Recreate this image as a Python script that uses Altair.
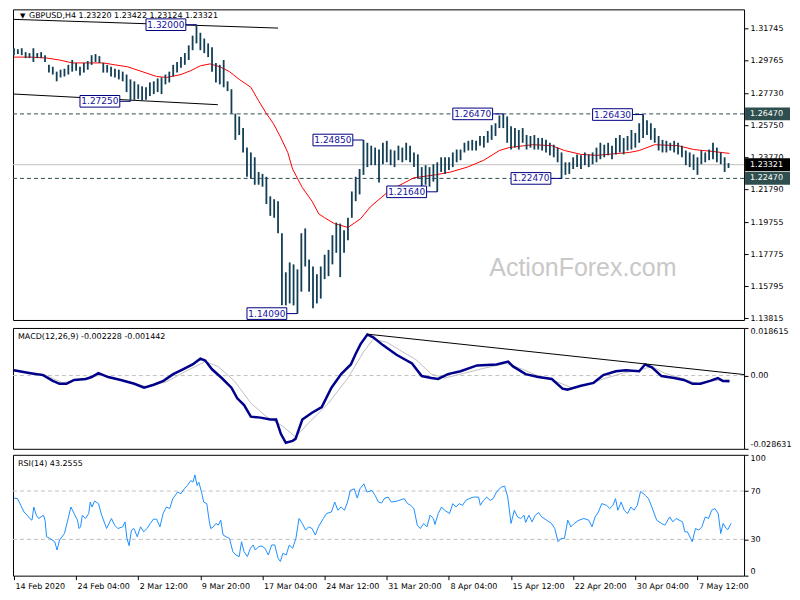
import json
import altair as alt
import pandas as pd

# ---------------- layout ----------------
W = 732
H_PRICE = 311
H_IND = 121
X_DOMAIN = [-0.5, 376]
PRICE_DOMAIN = [1.13694, 1.3295]
MACD_DOMAIN = [-0.028631, 0.018615]

# ---------------- texts ----------------
TITLE_TEXT = "GBPUSD,H4  1.23220 1.23422 1.23124 1.23321"
MACD_TEXT = "MACD(12,26,9) -0.002228 -0.001442"
RSI_TEXT = "RSI(14) 43.2555"
WATERMARK = "ActionForex.com"

PRICE_TICKS = [1.31745, 1.29765, 1.27730, 1.25750, 1.23770, 1.21790,
               1.19755, 1.17775, 1.15795, 1.13815]
MACD_TICKS = [0.018615, 0.0, -0.028631]
RSI_TICKS = [0, 30, 70, 100]
X_TICKS = [0, 32, 64, 96, 128, 160, 192, 224, 256, 288, 320, 352]
X_LABELS = ["14 Feb 2020", "24 Feb 04:00", "2 Mar 12:00", "9 Mar 20:00",
            "17 Mar 04:00", "24 Mar 12:00", "31 Mar 20:00", "8 Apr 04:00",
            "15 Apr 12:00", "22 Apr 20:00", "30 Apr 04:00", "7 May 12:00"]

# ---------------- price bars (every 2nd H4 bar) ----------------
BAR_IDX = list(range(0, 370, 2))
HIGH = [1.3054,1.3048,1.3054,1.3030,1.3024,1.3054,1.3024,1.3030,1.3011,1.2951,
        1.2939,1.2909,1.2921,1.2927,1.2951,1.2981,1.2963,1.2939,1.2963,1.2975,
        1.3011,1.3018,1.3005,1.2963,1.2951,1.2939,1.2927,1.2921,1.2909,1.2891,
        1.2861,1.2849,1.2830,1.2818,1.2812,1.2842,1.2849,1.2867,1.2873,1.2891,
        1.2909,1.2951,1.2969,1.2999,1.3024,1.3072,1.3132,1.3200,1.3150,1.3114,
        1.3084,1.3060,1.2963,1.2951,1.2981,1.2849,1.2800,1.2649,1.2631,1.2559,
        1.2438,1.2408,1.2378,1.2287,1.2275,1.2257,1.2136,1.2118,1.2106,1.1907,
        1.1665,1.1726,1.1714,1.1683,1.1907,1.1937,1.1744,1.1701,1.1653,1.1701,
        1.1774,1.1804,1.1895,1.1973,1.1967,1.1925,1.2003,1.2166,1.2257,1.2305,
        1.2485,1.2468,1.2450,1.2438,1.2426,1.2468,1.2480,1.2426,1.2420,1.2450,
        1.2438,1.2468,1.2450,1.2408,1.2396,1.2317,1.2329,1.2317,1.2335,1.2347,
        1.2378,1.2378,1.2378,1.2408,1.2426,1.2426,1.2468,1.2480,1.2486,1.2480,
        1.2510,1.2510,1.2541,1.2577,1.2589,1.2637,1.2647,1.2631,1.2571,1.2559,
        1.2547,1.2559,1.2516,1.2510,1.2516,1.2498,1.2498,1.2486,1.2468,1.2456,
        1.2438,1.2408,1.2347,1.2347,1.2378,1.2396,1.2390,1.2408,1.2396,1.2408,
        1.2438,1.2468,1.2456,1.2468,1.2450,1.2498,1.2516,1.2498,1.2510,1.2547,
        1.2529,1.2589,1.2643,1.2607,1.2589,1.2559,1.2510,1.2486,1.2480,1.2468,
        1.2480,1.2468,1.2450,1.2420,1.2408,1.2396,1.2378,1.2420,1.2408,1.2426,
        1.2468,1.2438,1.2408,1.2378,1.2342]
LOW = [1.3011,1.3018,1.3011,1.2993,1.2993,1.2969,1.2993,1.2993,1.2969,1.2903,
       1.2891,1.2849,1.2873,1.2879,1.2891,1.2909,1.2915,1.2885,1.2903,1.2921,
       1.2951,1.2969,1.2963,1.2903,1.2903,1.2879,1.2873,1.2861,1.2849,1.2782,
       1.2725,1.2734,1.2740,1.2728,1.2734,1.2758,1.2770,1.2782,1.2770,1.2830,
       1.2842,1.2879,1.2903,1.2933,1.2951,1.2981,1.3042,1.3084,1.3042,1.3024,
       1.2999,1.2909,1.2842,1.2830,1.2812,1.2788,1.2649,1.2486,1.2516,1.2408,
       1.2257,1.2245,1.2208,1.2208,1.2196,1.2088,1.2015,1.2003,1.1907,1.1460,
       1.1460,1.1472,1.1460,1.1409,1.1545,1.1701,1.1545,1.1442,1.1472,1.1502,
       1.1623,1.1641,1.1714,1.1786,1.1635,1.1786,1.1864,1.2003,1.2106,1.2148,
       1.2269,1.2317,1.2329,1.2329,1.2221,1.2335,1.2347,1.2329,1.2317,1.2360,
       1.2347,1.2360,1.2347,1.2317,1.2245,1.2196,1.2208,1.2196,1.2227,1.2164,
       1.2287,1.2275,1.2299,1.2317,1.2347,1.2360,1.2408,1.2420,1.2420,1.2420,
       1.2450,1.2438,1.2468,1.2486,1.2510,1.2559,1.2559,1.2468,1.2426,1.2438,
       1.2426,1.2468,1.2426,1.2438,1.2426,1.2426,1.2420,1.2408,1.2390,1.2378,
       1.2347,1.2247,1.2269,1.2275,1.2305,1.2317,1.2305,1.2329,1.2317,1.2335,
       1.2347,1.2366,1.2378,1.2390,1.2366,1.2396,1.2408,1.2396,1.2420,1.2426,
       1.2438,1.2468,1.2498,1.2516,1.2486,1.2468,1.2420,1.2408,1.2408,1.2420,
       1.2408,1.2396,1.2378,1.2329,1.2317,1.2299,1.2269,1.2335,1.2347,1.2360,
       1.2366,1.2347,1.2335,1.2287,1.2312]
LAST_CLOSE = 1.23321

# ---------------- moving average (red) ----------------
MA_IDX = [0, 8.5, 17, 23.5, 30, 38.5, 46, 52, 58.5, 66, 73.5, 78.5, 86, 91, 96, 101,
          106, 111, 116, 122, 126, 130, 133.5, 137, 141, 143.5, 148.5, 153.5, 157,
          160, 165, 172, 178.5, 183.5, 187.5, 193.5, 206, 217, 225, 233.5, 242, 250,
          255, 267, 277, 283.5, 292, 300, 317, 322, 330, 342, 350, 360, 368.5]
MA_VAL = [1.2999, 1.2999, 1.2993, 1.2981, 1.2963, 1.2963, 1.2963, 1.2951, 1.2939,
          1.2909, 1.2879, 1.2873, 1.2891, 1.2915, 1.2945, 1.2957, 1.2939, 1.2909,
          1.2861, 1.2812, 1.2728, 1.2649, 1.2589, 1.2510, 1.2408, 1.2305, 1.2190,
          1.2106, 1.2027, 1.2003, 1.1967, 1.1943, 1.1997, 1.2070, 1.2112, 1.2172,
          1.2251, 1.2269, 1.2287, 1.2317, 1.2360, 1.2420, 1.2438, 1.2456, 1.2450,
          1.2420, 1.2396, 1.2390, 1.2408, 1.2420, 1.2456, 1.2450, 1.2426, 1.2414,
          1.2402]

# ---------------- trend lines on price ----------------
TL_ID = ["a", "a", "b", "b"]
TL_IDX = [0, 136, 0, 105]
TL_VAL = [1.3233, 1.3179, 1.2770, 1.2704]

# ---------------- swing labels ----------------
LAB_IDX = [94, 60, 146, 180, 218, 252, 282, 324]
LAB_VAL = [1.3200, 1.2725, 1.1409, 1.2485, 1.2164, 1.2647, 1.2247, 1.2643]
LAB_TXT = ["1.32000", "1.27250", "1.14090", "1.24850", "1.21640", "1.26470",
           "1.22470", "1.26430"]

LEVELS = [1.2647, 1.2247]
TAG_VAL = [1.2647, 1.23321, 1.2247]
TAG_TXT = ["1.26470", "1.23321", "1.22470"]
TAG_COL = ["#2F4F4F", "#000000", "#2F4F4F"]

# ---------------- MACD ----------------
MACD_IDX = [0, 8.5, 15, 20, 23.5, 27, 31, 37, 40, 43.5, 48.5, 55, 62, 67, 72, 77, 82,
            87, 92, 96, 98.5, 102, 107, 112, 115, 118.5, 122, 127, 132, 135, 137.5,
            140, 143.5, 145, 148.5, 153.5, 158.5, 163.5, 168.5, 173.5, 176, 178.5,
            182, 185, 190, 197, 205, 210, 215, 218.5, 223.5, 230, 238.5, 248.5,
            254.5, 257, 263.5, 270, 277, 282.5, 285, 292, 298.5, 303.5, 310, 315,
            322, 325, 328.5, 333.5, 340, 345, 349.5, 353.5, 358.5, 362.5, 365, 368.5]
MACD_VAL = [0.00208, 0.00095, 0.00019, -0.00208, -0.00321, -0.00321, -0.00170,
            -0.00132, -0.00057, 0.00095, -0.00057, -0.00170, -0.00321, -0.00473,
            -0.00359, -0.00208, 0.00057, 0.00246, 0.00435, 0.00662, 0.00586,
            0.00246, -0.00095, -0.00473, -0.00888, -0.01153, -0.01607, -0.01644,
            -0.01720, -0.01720, -0.02287, -0.02627, -0.02552, -0.02476, -0.01720,
            -0.01455, -0.01229, -0.00473, 0.00057, 0.00435, 0.00851, 0.01229,
            0.01607, 0.01493, 0.01191, 0.00813, 0.00473, -0.00019, -0.00095,
            -0.00132, 0.00057, 0.00170, 0.00397, 0.00435, 0.00548, 0.00359,
            0.00057, -0.00057, -0.00132, -0.00510, -0.00548, -0.00397, -0.00284,
            0.00019, 0.00170, 0.00208, 0.00170, 0.00435, 0.00321, -0.00019,
            -0.00095, -0.00170, -0.00321, -0.00321, -0.00208, -0.00095, -0.00208,
            -0.00223]
SIG_IDX = [0, 15, 25, 37, 45, 57, 68.5, 78.5, 88.5, 98.5, 105, 113.5, 122, 130,
           138.5, 145, 152, 162, 172, 180, 185, 192, 198.5, 207, 215, 222, 232, 242,
           253.5, 262, 270, 278.5, 287, 295, 303.5, 313.5, 322, 328.5, 335, 343.5,
           352, 360, 368.5]
SIG_VAL = [0.00170, 0.00057, -0.00284, -0.00095, 0.00019, -0.00208, -0.00435,
           -0.00246, 0.00170, 0.00548, 0.00359, -0.00208, -0.01077, -0.01607,
           -0.01985, -0.02400, -0.01833, -0.01077, -0.00095, 0.00926, 0.01418,
           0.01304, 0.01002, 0.00624, 0.00057, -0.00095, 0.00095, 0.00284, 0.00473,
           0.00246, -0.00019, -0.00208, -0.00473, -0.00359, -0.00132, 0.00095,
           0.00208, 0.00359, 0.00095, -0.00095, -0.00321, -0.00208, -0.00144]
MTL_IDX = [182, 376]
MTL_VAL = [0.0162, 0.0004]

# ---------------- RSI ----------------
RSI_IDX = [0, 1.8, 3.5, 5.2, 6.8, 8.5, 9.3, 10.2, 11.5, 12.7, 15.2, 16, 16.8, 18.5, 21,
           22.2, 23.5, 26, 27.7, 29.3, 31, 32.7, 33.5, 34.3, 35.2, 36.8, 38.5, 39.3,
           40.2, 41.5, 43.5, 45.2, 47.7, 50.2, 51.8, 53.5, 56, 57.2, 58.2, 59.3, 60.5,
           61.8, 63.5, 65.2, 66.8, 68.5, 70.2, 71.8, 73.5, 75.2, 76.8, 78.5, 80.2,
           81.8, 84.3, 86, 87.7, 89.3, 91, 92.2, 93.2, 94.3, 95.2, 96.8, 97.7, 99.3,
           100.5, 101.3, 102.7, 104, 105.2, 106.5, 107.7, 109.3, 111, 112.7, 114.3,
           116, 117.2, 118.5, 120.2, 121.8, 123.2, 124.3, 126, 127.7, 129.3, 131,
           132.7, 134.3, 136, 137.2, 138.5, 140.2, 141.8, 143.5, 145.2, 146.8, 148.5,
           150.2, 151.8, 153.5, 155.2, 156.8, 159.3, 161, 163.5, 165.2, 166.8, 168.5,
           170.2, 171.8, 173.2, 175.2, 176.8, 178.2, 180.2, 181.8, 184.3, 186, 187.7,
           189.3, 191, 192.7, 194.3, 196.8, 201, 202.7, 204.3, 206, 207.7, 209.3,
           211, 212.7, 214.3, 216, 216.8, 218.5, 220.2, 221.8, 224.3, 226, 227.7,
           229.3, 231, 232.7, 234.3, 236.8, 239.3, 240.2, 241.8, 243.5, 245.2, 246.8,
           248.5, 251, 252.7, 254.3, 256, 257.7, 259.3, 261, 262.7, 263.5, 265.2,
           266.8, 268.5, 270.2, 271.8, 274.3, 276.8, 278.5, 280.2, 281.8, 283.5,
           285.2, 286.8, 288.5, 291, 293.5, 296, 297.7, 299.3, 301, 302.7, 305.2,
           306.8, 308.5, 309.8, 311, 312.7, 314.3, 316, 317.7, 319.3, 321, 322.7,
           325.2, 326.8, 328.5, 331, 333.5, 335.2, 337.7, 339.3, 341, 344.3, 345.5,
           346.8, 348.5, 349.3, 351, 352.7, 354.3, 356, 357.7, 359.3, 361, 362.7, 364,
           365.2, 366.8, 367.7, 369.3]
RSI_VAL = [64.2, 63.7, 58.2, 52.7, 50.0, 46.7, 45.9, 56.8, 50.0, 47.3, 50.0, 45.9,
           32.2, 30.8, 28.1, 21.2, 29.5, 34.9, 45.9, 56.8, 51.4, 45.9, 39.0, 40.4,
           50.0, 47.3, 51.4, 60.9, 56.8, 61.8, 59.6, 50.0, 39.0, 47.3, 41.8, 39.0,
           40.4, 44.5, 30.8, 24.8, 37.7, 39.0, 32.2, 40.4, 36.3, 39.0, 43.2, 46.7,
           46.7, 40.4, 51.4, 56.8, 55.5, 63.7, 69.2, 67.8, 71.9, 74.6, 78.7, 77.4,
           83.4, 74.6, 77.4, 67.8, 60.9, 59.6, 45.9, 39.0, 40.4, 43.2, 41.8, 45.9,
           33.6, 32.2, 30.8, 19.9, 17.1, 15.8, 28.1, 19.9, 15.8, 22.6, 25.4, 21.2,
           24.0, 24.5, 22.6, 17.1, 25.4, 25.4, 14.4, 11.7, 18.5, 17.1, 25.4, 22.6,
           30.8, 47.3, 43.2, 37.7, 40.4, 39.0, 33.6, 40.4, 47.3, 51.4, 52.7, 60.9,
           54.1, 56.8, 54.1, 60.9, 70.5, 71.9, 64.2, 71.9, 76.0, 69.2, 70.5, 66.4,
           60.9, 60.1, 64.2, 65.0, 60.9, 61.5, 63.7, 59.6, 58.2, 55.5, 41.8, 39.0,
           43.2, 40.4, 50.0, 47.3, 42.3, 51.4, 56.8, 54.1, 51.4, 59.6, 56.8, 59.6,
           58.2, 62.3, 63.7, 65.0, 65.0, 58.2, 62.3, 65.0, 62.3, 63.7, 69.2, 73.3,
           74.1, 65.0, 43.2, 54.1, 48.6, 47.3, 50.0, 44.0, 50.0, 44.5, 50.0, 52.2,
           48.6, 45.9, 43.2, 39.0, 28.1, 30.8, 30.8, 45.9, 40.4, 43.2, 45.9, 47.3,
           45.9, 40.4, 48.6, 52.7, 59.6, 58.2, 55.5, 58.2, 63.7, 54.1, 60.9, 54.1,
           51.4, 56.8, 54.1, 58.2, 69.7, 66.4, 63.7, 56.8, 45.9, 43.2, 41.8, 48.6,
           44.5, 47.3, 44.5, 36.3, 36.3, 30.8, 28.1, 39.0, 37.7, 40.4, 48.6, 47.3,
           54.1, 55.5, 51.4, 34.9, 43.2, 39.0, 38.2, 43.3]
RSI_LEVELS = [30, 70]

# ---------------- colours ----------------
BAR_COLOR = "#123F55"
LEVEL_COLOR = "#2F4F4F"
BOX_COLOR = "#000080"
LABEL_TEXT_COLOR = "#1414A0"
FONT = "DejaVu Sans"

# ---------------- scales / axes ----------------
xs = alt.Scale(domain=X_DOMAIN, nice=False, zero=False)
ps = alt.Scale(domain=PRICE_DOMAIN, nice=False, zero=False)
ms = alt.Scale(domain=MACD_DOMAIN, nice=False, zero=False)
rs = alt.Scale(domain=[0, 100], nice=False, zero=False)

common_axis = dict(title=None, grid=False, domain=False, tickSize=4, labelPadding=2,
                   labelOverlap=False, labelFont=FONT, labelFontSize=8,
                   labelColor="black", tickColor="black")
p_axis = alt.Axis(orient="right", values=PRICE_TICKS, format=".5f", labelFlush=False,
                  **common_axis)
m_axis = alt.Axis(orient="right", values=MACD_TICKS, labelFlush=True,
                  labelExpr="datum.value == 0 ? '0.00' : (datum.value < 0 ? '-' + format(-datum.value, '.6f') : format(datum.value, '.6f'))",
                  **common_axis)
r_axis = alt.Axis(orient="right", values=RSI_TICKS, format="d", labelFlush=True,
                  **common_axis)
x_axis = alt.Axis(orient="bottom", values=X_TICKS,
                  labelExpr=json.dumps(X_LABELS) + "[round(datum.value / 32)]",
                  title=None, grid=False, domain=False, tickSize=4, labelPadding=3,
                  labelAlign="left", labelBaseline="top", labelOffset=1,
                  labelOverlap=False, labelFlush=False, labelBound=False,
                  labelFont=FONT, labelFontSize=8, labelColor="black",
                  tickColor="black")


def NX(f):
    return alt.X(f, type="quantitative", scale=xs, axis=None)


def RX(f):
    return alt.X(f, type="quantitative", scale=xs, axis=x_axis)


def PY(f):
    return alt.Y(f, type="quantitative", scale=ps, axis=p_axis)


def MY(f):
    return alt.Y(f, type="quantitative", scale=ms, axis=m_axis)


def RY(f):
    return alt.Y(f, type="quantitative", scale=rs, axis=r_axis)


def corner_text(txt, x, y, size=8):
    return alt.Chart(pd.DataFrame({"t": [txt]})).mark_text(
        font=FONT, fontSize=size, align="left", baseline="middle", color="black"
    ).encode(x=alt.value(x), y=alt.value(y), text="t:N")


# ---------------- price panel ----------------
bars_df = pd.DataFrame({"i": BAR_IDX, "h": HIGH, "l": LOW})
ma_df = pd.DataFrame({"i": MA_IDX, "p": MA_VAL})
tl_df = pd.DataFrame({"id": TL_ID, "i": TL_IDX, "p": TL_VAL})
lab_df = pd.DataFrame({"i": LAB_IDX, "p": LAB_VAL, "t": LAB_TXT})
tag_df = pd.DataFrame({"p": TAG_VAL, "t": TAG_TXT, "c": TAG_COL})

wm = alt.Chart(pd.DataFrame({"i": [293], "p": [1.1689], "t": [WATERMARK]})).mark_text(
    font="Liberation Sans", fontSize=25, color="#C8C8C8", align="center",
    baseline="middle").encode(x=NX("i"), y=PY("p"), text="t:N")
cur = alt.Chart(pd.DataFrame({"p": [LAST_CLOSE]})).mark_rule(
    color="#C0C0C0", strokeWidth=1).encode(y=PY("p"))
levels = alt.Chart(pd.DataFrame({"p": LEVELS})).mark_rule(
    color=LEVEL_COLOR, strokeDash=[4, 3], strokeWidth=1).encode(y=PY("p"))
tl = alt.Chart(tl_df).mark_line(color="black", strokeWidth=1).encode(
    x=NX("i"), y=PY("p"), detail="id:N")
ma = alt.Chart(ma_df).mark_line(color="#FF0000", strokeWidth=1).encode(
    x=NX("i"), y=PY("p"))
bars = alt.Chart(bars_df).mark_rule(color=BAR_COLOR, strokeWidth=1.8).encode(
    x=NX("i"), y=PY("l"), y2=alt.Y2("h"))

lab = alt.Chart(lab_df).transform_calculate(
    x1="datum.i - 26", x2="datum.i - 5.5", xc="datum.i - 15.75",
    y1="datum.p - 0.0036", y2="datum.p + 0.0036")
box = lab.mark_rect(fill="white", stroke=BOX_COLOR, strokeWidth=1).encode(
    x=NX("x1"), x2=alt.X2("x2"), y=PY("y1"), y2=alt.Y2("y2"))
conn = lab.mark_rule(color=BOX_COLOR, strokeWidth=1).encode(
    x=NX("x2"), x2=alt.X2("i"), y=PY("p"))
ltxt = lab.mark_text(font=FONT, fontSize=9, color=LABEL_TEXT_COLOR, align="center",
                     baseline="middle").encode(x=NX("xc"), y=PY("p"), text="t:N")

tags = alt.Chart(tag_df).transform_calculate(y1="datum.p - 0.0040",
                                             y2="datum.p + 0.0040")
tag_box = tags.mark_rect().encode(
    x=alt.value(W + 1), x2=alt.value(W + 46), y=PY("y1"), y2=alt.Y2("y2"),
    color=alt.Color("c:N", scale=None))
tag_txt = tags.mark_text(font=FONT, fontSize=8, color="white", align="left",
                         baseline="middle").encode(
    x=alt.value(W + 6), y=PY("p"), text="t:N")

price = alt.layer(
    wm, cur, levels, tl, ma, bars, conn, box, ltxt, tag_box, tag_txt,
    corner_text("\u25BC", 7, 7, size=7), corner_text(TITLE_TEXT, 16, 7)
).properties(width=W, height=H_PRICE)

# ---------------- MACD panel ----------------
macd_df = pd.DataFrame({"i": MACD_IDX, "v": MACD_VAL})
sig_df = pd.DataFrame({"i": SIG_IDX, "v": SIG_VAL})
mtl_df = pd.DataFrame({"i": MTL_IDX, "v": MTL_VAL})

mzero = alt.Chart(pd.DataFrame({"v": [0.0]})).mark_rule(
    color="#C0C0C0", strokeDash=[4, 3], strokeWidth=1).encode(y=MY("v"))
sig = alt.Chart(sig_df).mark_line(color="#C0C0C0", strokeWidth=1).encode(
    x=NX("i"), y=MY("v"))
mline = alt.Chart(macd_df).mark_line(color="#00008B", strokeWidth=2.5).encode(
    x=NX("i"), y=MY("v"))
mtl = alt.Chart(mtl_df).mark_line(color="black", strokeWidth=1, clip=True).encode(
    x=NX("i"), y=MY("v"))

macd = alt.layer(mzero, sig, mline, mtl, corner_text(MACD_TEXT, 5, 9)).properties(
    width=W, height=H_IND)

# ---------------- RSI panel ----------------
rsi_df = pd.DataFrame({"i": RSI_IDX, "v": RSI_VAL})
rlev = alt.Chart(pd.DataFrame({"v": RSI_LEVELS})).mark_rule(
    color="#C0C0C0", strokeDash=[4, 3], strokeWidth=1).encode(y=RY("v"))
rline = alt.Chart(rsi_df).mark_line(color="#1E90FF", strokeWidth=1).encode(
    x=RX("i"), y=RY("v"))

rsi = alt.layer(rlev, rline, corner_text(RSI_TEXT, 5, 9)).properties(
    width=W, height=H_IND)

chart = alt.vconcat(price, macd, rsi, spacing=4).properties(
    padding=0, background="white"
).configure_view(stroke="black", strokeWidth=1)

chart.save("out.html", embed_options={"renderer": "svg", "actions": False})
